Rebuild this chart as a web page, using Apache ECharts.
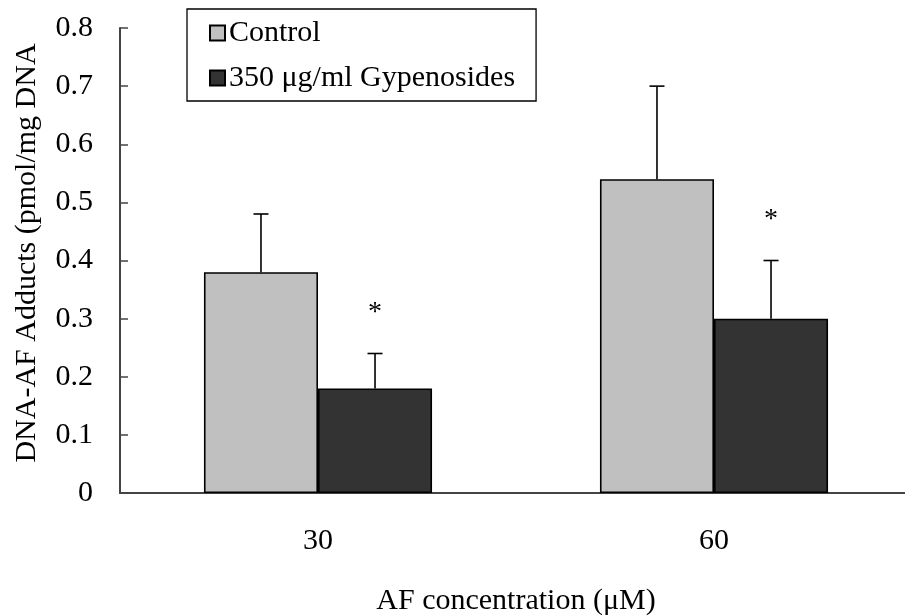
<!DOCTYPE html>
<html>
<head>
<meta charset="utf-8">
<script src="https://cdn.jsdelivr.net/npm/echarts@6/dist/echarts.min.js"></script>
<style>html,body{margin:0;padding:0;background:#fff;overflow:hidden}#c{width:905px;height:616px}</style>
</head>
<body>
<div id="c"></div>
<script>
const categories = ['30', '60'];
const seriesNames = ['Control', '350 μg/ml Gypenosides'];
const controlValues = [0.38, 0.54];
const controlErrors = [0.10, 0.16];
const gypValues = [0.18, 0.30];
const gypErrors = [0.06, 0.10];
const gypSignificance = ['*', '*'];
const yTicks = [0, 0.1, 0.2, 0.3, 0.4, 0.5, 0.6, 0.7, 0.8];

const FONT = '"Liberation Serif", "Times New Roman", serif';
const FS = 30;
const BAR_FRAC = 0.288;

function errData(vals, errs, sig) {
  return vals.map((v, i) => [i, v, errs[i], sig ? sig[i] : '']);
}

function makeErr(side) {
  return function (params, api) {
    const cat = api.value(0);
    const v = api.value(1);
    const e = api.value(2);
    const s = api.value(3);
    const base = api.coord([cat, v]);
    const top = api.coord([cat, v + e]);
    const band = api.size([1, 0])[0];
    const x = base[0] + side * band * BAR_FRAC / 2;
    const children = [
      { type: 'line', shape: { x1: x, y1: base[1], x2: x, y2: top[1] }, style: { stroke: '#000', lineWidth: 1.6 } },
      { type: 'line', shape: { x1: x - 7.5, y1: top[1], x2: x + 7.5, y2: top[1] }, style: { stroke: '#000', lineWidth: 1.6 } }
    ];
    if (s && s !== '' && s !== '-') {
      children.push({ type: 'text', style: { x: x, y: top[1] - 41, text: String(s), fill: '#000', font: '28px ' + FONT, align: 'center', verticalAlign: 'middle' } });
    }
    return { type: 'group', children: children };
  };
}

const chart = echarts.init(document.getElementById('c'), null, { renderer: 'canvas' });
chart.setOption({
  animation: false,
  backgroundColor: '#fff',
  textStyle: { fontFamily: FONT, color: '#000' },
  grid: { left: 120, top: 28, width: 792, bottom: 123, containLabel: false, outerBoundsMode: 'none' },
  legend: {
    data: seriesNames,
    orient: 'vertical',
    left: 187, top: 9,
    itemWidth: 15, itemHeight: 15,
    itemGap: 15,
    padding: [9, 21, 8, 22],
    borderColor: '#000', borderWidth: 1.3,
    textStyle: { fontFamily: FONT, fontSize: FS, color: '#000', padding: [0, 0, 0, -1] },
    icon: 'rect'
  },
  xAxis: {
    type: 'category',
    data: categories,
    name: 'AF concentration (μM)',
    nameLocation: 'middle',
    nameGap: 93,
    nameTextStyle: { fontFamily: FONT, fontSize: FS, color: '#000' },
    axisLine: { lineStyle: { color: '#444', width: 2 } },
    axisTick: { show: false },
    axisLabel: { fontFamily: FONT, fontSize: FS, color: '#000', margin: 33 },
    splitLine: { show: false }
  },
  yAxis: {
    type: 'value',
    min: 0, max: 0.8, interval: 0.1,
    name: 'DNA-AF Adducts (pmol/mg DNA',
    nameLocation: 'middle',
    nameGap: 78,
    nameTextStyle: { fontFamily: FONT, fontSize: FS, color: '#000', padding: [0, 0, 0, 15] },
    axisLine: { show: true, lineStyle: { color: '#444', width: 2 } },
    axisTick: { show: true, inside: true, length: 8, lineStyle: { color: '#444', width: 1.5 } },
    axisLabel: {
      fontFamily: FONT, fontSize: FS, color: '#000', margin: 27,
      formatter: v => { const t = yTicks.find(k => Math.abs(k - v) < 1e-9); return t === 0 ? '0' : (t !== undefined ? t.toFixed(1) : ''); }
    },
    splitLine: { show: false }
  },
  series: [
    {
      name: seriesNames[0], type: 'bar', data: controlValues,
      barWidth: (BAR_FRAC * 100) + '%', barGap: '0%',
      itemStyle: { color: '#c0c0c0', borderColor: '#000', borderWidth: 1.6 }
    },
    {
      name: seriesNames[1], type: 'bar', data: gypValues,
      barWidth: (BAR_FRAC * 100) + '%', barGap: '0%',
      itemStyle: { color: '#333333', borderColor: '#000', borderWidth: 1.6 }
    },
    {
      type: 'custom', name: 'errControl', renderItem: makeErr(-1),
      data: errData(controlValues, controlErrors, null),
      encode: { x: 0, y: 1 }, z: 5, silent: true
    },
    {
      type: 'custom', name: 'errGyp', renderItem: makeErr(1),
      data: errData(gypValues, gypErrors, gypSignificance),
      encode: { x: 0, y: 1 }, z: 5, silent: true
    }
  ]
});
</script>
</body>
</html>
